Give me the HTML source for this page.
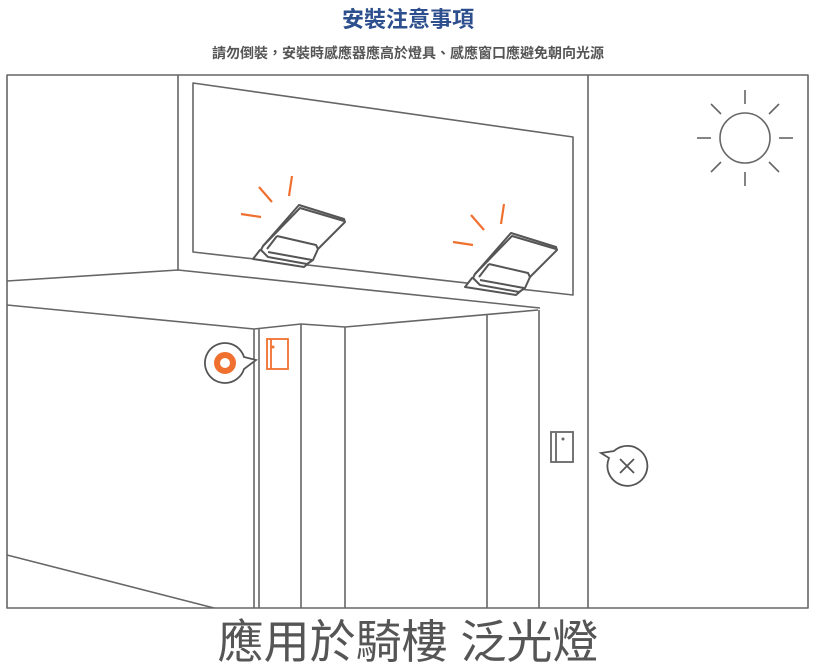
<!DOCTYPE html>
<html><head><meta charset="utf-8"><style>
html,body{margin:0;padding:0;background:#fff;width:816px;height:666px;overflow:hidden}
svg{display:block}
</style></head><body>
<svg width="816" height="666" viewBox="0 0 816 666" xmlns="http://www.w3.org/2000/svg">
<text x="408" y="27" text-anchor="middle" font-family="Liberation Sans, Noto Sans CJK TC, sans-serif" font-size="22" font-weight="bold" fill="#2d4f8e">安裝注意事項</text>
<text x="408" y="58" text-anchor="middle" font-family="Liberation Sans, Noto Sans CJK TC, sans-serif" font-size="14" font-weight="bold" fill="#555">請勿倒裝，安裝時感應器應高於燈具、感應窗口應避免朝向光源</text>
<g fill="none" stroke="#666" stroke-width="1.6" stroke-linejoin="round">
<rect x="7" y="75" width="801" height="533"/>
<line x1="178" y1="75" x2="178" y2="270"/>
<polygon points="193,83 573,137 573,295 193,252"/>
<polyline points="7,281 178,270 540,308"/>
<polyline points="7,305 254,329 301,324 345,327 538,310"/>
<line x1="254" y1="329" x2="254" y2="608"/>
<line x1="259" y1="329" x2="259" y2="608"/>
<line x1="301" y1="324" x2="301" y2="608"/>
<line x1="345" y1="327" x2="345" y2="608"/>
<line x1="487" y1="314" x2="487" y2="608"/>
<line x1="539" y1="310" x2="539" y2="608"/>
<line x1="588" y1="75" x2="588" y2="608"/>
<line x1="7" y1="555" x2="214" y2="608"/>
<circle cx="745" cy="138" r="25"/>
<line x1="745" y1="90" x2="745" y2="104"/><line x1="745" y1="172" x2="745" y2="186"/>
<line x1="697" y1="138" x2="711" y2="138"/><line x1="779" y1="138" x2="793" y2="138"/>
<line x1="711" y1="104" x2="721" y2="114"/><line x1="769" y1="162" x2="779" y2="172"/>
<line x1="779" y1="104" x2="769" y2="114"/><line x1="711" y1="172" x2="721" y2="162"/>
</g>
<g id="light" fill="#fff" stroke="#555" stroke-width="2" stroke-linejoin="round">
<path d="M260,250 L253,259 L304,267 L312,260 Z"/>
<path d="M299,205 L344,219 L345,222 L318,249 L313,260 L307,264 L268,257 L261,250 L263,246 Z"/>
<path d="M263,246 L300,208 L344,221" fill="none"/>
<path d="M277,236 L316,245 L318,249" fill="none"/>
<path d="M268,252 L312,260" fill="none"/>
<path d="M277,236 L267,249" fill="none"/>
<g stroke="#f07030" stroke-width="2.2"><line x1="241" y1="214" x2="261" y2="217"/><line x1="259" y1="187" x2="272" y2="202"/><line x1="292" y1="176" x2="289" y2="196"/></g>
</g>
<use href="#light" transform="translate(212,28)"/>
<path d="M244,357 L256,360 L244,369 A20,20 0 1,1 244,357 Z" fill="#fff" stroke="#555" stroke-width="1.8"/>
<circle cx="225" cy="363" r="8" fill="none" stroke="#f07030" stroke-width="6"/>
<g fill="#fff" stroke="#f07030" stroke-width="1.8"><rect x="267" y="339" width="21" height="30"/><line x1="271" y1="339" x2="271" y2="369"/></g>
<circle cx="273" cy="347" r="1.5" fill="#f07030"/>
<g fill="#fff" stroke="#666" stroke-width="1.8"><rect x="551" y="432" width="22" height="30"/><line x1="556" y1="433" x2="556" y2="462"/></g>
<circle cx="563" cy="439" r="1.5" fill="#666"/>
<path d="M609,458 L601,453 L614,451 A20,20 0 1,1 609,458 Z" fill="#fff" stroke="#555" stroke-width="1.8"/>
<g stroke="#555" stroke-width="1.8"><line x1="620" y1="459" x2="634" y2="473"/><line x1="634" y1="459" x2="620" y2="473"/></g>
<text x="408" y="658" text-anchor="middle" font-family="Liberation Sans, Noto Sans CJK TC, sans-serif" font-size="46" fill="#555">應用於騎樓 泛光燈</text>
</svg>
</body></html>
